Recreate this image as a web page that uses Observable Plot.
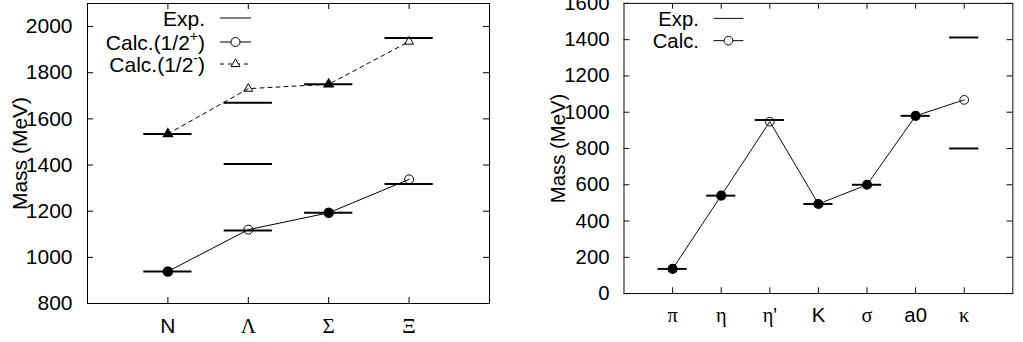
<!DOCTYPE html>
<html><head><meta charset="utf-8">
<script src="https://cdn.jsdelivr.net/npm/d3@7"></script>
<script src="https://cdn.jsdelivr.net/npm/@observablehq/plot@0.6"></script>
<style>
html,body{margin:0;padding:0;width:1023px;height:342px;overflow:hidden;background:#fff;}
#left{position:absolute;left:0;top:0;}
#right{position:absolute;left:520px;top:0;}
</style></head><body><div id="left"></div><div id="right"></div>
<script>
// ---- Baryons (left panel) ----
const baryonNames = ["N", "Λ", "Σ", "Ξ"];
const baryonExpCat = ["N", "N", "Λ", "Λ", "Λ", "Σ", "Σ", "Ξ", "Ξ"];
const baryonExpMass = [939, 1535, 1116, 1405, 1670, 1193, 1750, 1318, 1950];
const calcPlus = [939, 1120, 1193, 1338];
const calcPlusFilled = [true, false, true, false];
const calcMinus = [1535, 1731, 1750, 1935];
const calcMinusFilled = [true, false, true, false];
const baryonTicks = [800, 1000, 1200, 1400, 1600, 1800, 2000];

// ---- Mesons (right panel) ----
const mesonNames = ["π", "η", "η'", "K", "σ", "a0", "κ"];
const mesonExpCat = ["π", "η", "η'", "K", "σ", "a0", "κ", "κ"];
const mesonExpMass = [136, 540, 957, 494, 600, 980, 800, 1412];
const mesonCalc = [136, 540, 948, 494, 600, 980, 1068];
const mesonCalcFilled = [true, true, false, true, true, true, false];
const mesonTicks = [0, 200, 400, 600, 800, 1000, 1200, 1400, 1600];

const SANS = "'Liberation Sans', Arial, Helvetica, sans-serif";
const SERIF = "'Liberation Serif', 'Times New Roman', serif";
const FS = 21;

function panel(o) {
  const H = 342, mt = 3, mb = 39;
  const innerW = o.width - o.marginLeft - o.marginRight;
  const innerH = H - mt - mb;
  const idx = c => o.names.indexOf(c) + 1;
  const exp = o.expCat.map((c, i) => ({x: idx(c), y: o.expMass[i]}));
  const cats = o.names.map((n, i) => ({n, x: i + 1}));
  const marks = [
    Plot.tickY(o.yTicks, {y: d => d, insetRight: innerW - 6, stroke: "#000"}),
    Plot.tickY(o.yTicks, {y: d => d, insetLeft: innerW - 6, stroke: "#000"}),
    Plot.tickX(cats, {x: "x", insetTop: innerH - 6, stroke: "#000"}),
    Plot.tickX(cats, {x: "x", insetBottom: innerH - 6, stroke: "#000"}),
    Plot.text(o.yTicks, {y: d => d, text: d => String(d), frameAnchor: "left", textAnchor: "end", lineAnchor: "middle", dx: -15, fontSize: FS, fill: "#000"}),
    Plot.text(cats.filter(d => o.serif.includes(d.n)), {x: "x", text: "n", frameAnchor: "bottom", lineAnchor: "bottom", dy: 29, fontFamily: SERIF, fontSize: FS, fill: "#000"}),
    Plot.text(cats.filter(d => !o.serif.includes(d.n)), {x: "x", text: "n", frameAnchor: "bottom", lineAnchor: "bottom", dy: 29, fontFamily: SANS, fontSize: FS, fill: "#000"}),
    Plot.text(["Mass (MeV)"], {text: d => d, frameAnchor: "left", textAnchor: "middle", lineAnchor: "middle", rotate: -90, dx: o.labelDx, fontSize: FS, fill: "#000"}),
    Plot.ruleY(exp, {y: "y", x1: d => d.x - 0.3, x2: d => d.x + 0.3, stroke: "#000", strokeWidth: 2})
  ];
  for (const s of o.series) {
    const pts = s.values.map((v, i) => ({x: i + 1, y: v, filled: s.filled[i]}));
    marks.push(Plot.line(pts, {x: "x", y: "y", stroke: "#000", strokeWidth: 1, strokeDasharray: s.dash}));
    marks.push(Plot.dot(pts.filter(d => d.filled), {x: "x", y: "y", r: s.r, symbol: s.symbol, fill: "#000", stroke: "#000"}));
    marks.push(Plot.dot(pts.filter(d => !d.filled), {x: "x", y: "y", r: s.r, symbol: s.symbol, fill: "none", stroke: "#000", strokeWidth: 1}));
  }
  marks.push(Plot.frame({stroke: "#000", strokeWidth: 1}));
  const svg = Plot.plot({
    width: o.width, height: H,
    marginLeft: o.marginLeft, marginRight: o.marginRight, marginTop: mt, marginBottom: mb,
    style: {fontFamily: SANS, fontSize: FS + "px", background: "transparent", overflow: "visible"},
    x: {domain: [0, o.xMax], axis: null},
    y: {domain: o.yDomain, axis: null},
    marks
  });
  // legend
  const g = d3.select(svg).append("g").attr("font-family", SANS).attr("font-size", FS);
  for (const r of o.legend) {
    const t = g.append("text").attr("x", o.legendTextEnd).attr("y", r.y).attr("dy", "0.36em")
      .attr("text-anchor", "end").attr("fill", "#000");
    t.append("tspan").text(r.label);
    if (r.sup) {
      t.append("tspan").attr("font-size", 14).attr("dy", -9).text(r.sup);
      t.append("tspan").attr("dy", 9).text(")");
    }
    g.append("line").attr("x1", o.legendX1).attr("x2", o.legendX2).attr("y1", r.y).attr("y2", r.y)
      .attr("stroke", "#000").attr("stroke-width", 1).attr("stroke-dasharray", r.dash || null);
    const cx = (o.legendX1 + o.legendX2) / 2;
    if (r.marker === "circle") {
      g.append("circle").attr("cx", cx).attr("cy", r.y).attr("r", 4.5).attr("fill", "#fff").attr("stroke", "#000");
    } else if (r.marker === "triangle") {
      g.append("path").attr("transform", `translate(${cx},${r.y})`)
        .attr("d", d3.symbol(d3.symbolTriangle, Math.PI * 3.3 * 3.3)()).attr("fill", "#fff").attr("stroke", "#000");
    }
  }
  return svg;
}

document.getElementById("left").append(panel({
  names: baryonNames, serif: ["Λ", "Σ", "Ξ"], expCat: baryonExpCat, expMass: baryonExpMass,
  series: [
    {values: calcPlus, filled: calcPlusFilled, symbol: "circle", r: 4.5, dash: null},
    {values: calcMinus, filled: calcMinusFilled, symbol: "triangle", r: 3.3, dash: "4,4"}
  ],
  yDomain: [800, 2100], yTicks: baryonTicks, xMax: 5,
  width: 520, marginLeft: 87, marginRight: 31, labelDx: -67,
  legendTextEnd: 205, legendX1: 220, legendX2: 251,
  legend: [
    {y: 18, label: "Exp."},
    {y: 42, label: "Calc.(1/2", sup: "+", marker: "circle"},
    {y: 64, label: "Calc.(1/2", sup: "-", marker: "triangle", dash: "4,4"}
  ]
}));

document.getElementById("right").append(panel({
  names: mesonNames, serif: ["π", "η", "η'", "σ", "κ"], expCat: mesonExpCat, expMass: mesonExpMass,
  series: [
    {values: mesonCalc, filled: mesonCalcFilled, symbol: "circle", r: 4.5, dash: null}
  ],
  yDomain: [0, 1600], yTicks: mesonTicks, xMax: 8,
  width: 520, marginLeft: 107, marginRight: 11, labelDx: -68,
  legendTextEnd: 185, legendX1: 200, legendX2: 231,
  legend: [
    {y: 19, label: "Exp."},
    {y: 42, label: "Calc.", marker: "circle"}
  ]
}));
</script></body></html>
